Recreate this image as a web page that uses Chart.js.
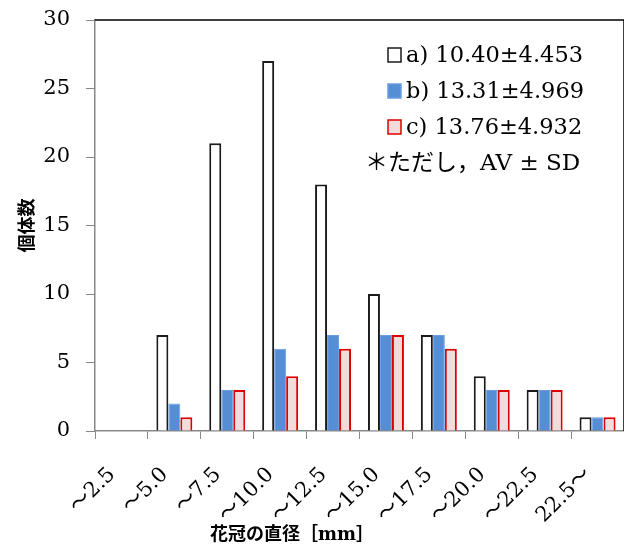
<!DOCTYPE html>
<html lang="ja">
<head>
<meta charset="UTF-8">
<title>花冠の直径</title>
<script src="https://cdn.jsdelivr.net/npm/chart.js"></script>
<style>
  html, body { margin: 0; padding: 0; background: #fff; }
  #wrap { width: 624px; height: 549px; }
</style>
</head>
<body>
<div id="wrap"><canvas id="chart" width="624" height="549"></canvas></div>
<script>
// data
const categories = ['～2.5', '～5.0', '～7.5', '～10.0', '～12.5', '～15.0', '～17.5', '～20.0', '～22.5', '22.5～'];
const seriesA = [0, 7, 21, 27, 18, 10, 7, 4, 3, 1];
const seriesB = [0, 2, 3, 6, 7, 7, 7, 3, 3, 1];
const seriesC = [0, 1, 3, 4, 6, 7, 6, 3, 3, 1];
const seriesLabels = ['a) 10.40±4.453', 'b) 13.31±4.969', 'c) 13.76±4.932'];
const noteText = '＊ただし，AV ± SD';
const yTicks = [0, 5, 10, 15, 20, 25, 30];

const serif = "'DejaVu Serif', 'Noto Sans CJK JP', serif";

// legend + frame drawn inside the plot
const insideLegend = {
    id: 'insideLegend',
    afterDraw(chart) {
        const ctx = chart.ctx;
        const a = chart.chartArea;
        ctx.save();
        // top + right frame
        ctx.strokeStyle = '#000';
        ctx.lineWidth = 1.5;
        ctx.beginPath();
        ctx.moveTo(a.left, a.top);
        ctx.lineTo(a.right, a.top);
        ctx.lineTo(a.right, a.bottom);
        ctx.stroke();

        ctx.font = '22.5px ' + serif;
        ctx.textBaseline = 'middle';
        ctx.textAlign = 'left';
        const rows = [55, 91, 127];
        chart.data.datasets.forEach((ds, i) => {
            const y = rows[i];
            ctx.fillStyle = ds.backgroundColor;
            ctx.fillRect(388, y - 7, 13, 14);
            ctx.lineWidth = 1.5;
            ctx.strokeStyle = ds.borderColor;
            ctx.strokeRect(388, y - 7, 13, 14);
            ctx.fillStyle = '#000';
            ctx.fillText(ds.label, 406, y + 1);
        });
        ctx.font = '23px ' + serif;
        ctx.fillText(noteText, 365, 164);
        ctx.restore();
    }
};

new Chart(document.getElementById('chart'), {
    type: 'bar',
    data: {
        labels: categories.map(c => c + '  '),
        datasets: [
            { label: seriesLabels[0], data: seriesA, backgroundColor: '#ffffff', borderColor: '#1a1a1a', borderWidth: 2 },
            { label: seriesLabels[1], data: seriesB, backgroundColor: '#558ed5', borderColor: '#6a9ddf', borderWidth: 1 },
            { label: seriesLabels[2], data: seriesC, backgroundColor: '#f2dcdb', borderColor: '#dd0000', borderWidth: 2 }
        ]
    },
    options: {
        responsive: false,
        animation: false,
        layout: { padding: { top: 20, right: 0, left: 0, bottom: 0 } },
        datasets: { bar: { categoryPercentage: 0.68, barPercentage: 1.0 } },
        plugins: {
            legend: { display: false },
            tooltip: { enabled: false }
        },
        scales: {
            x: {
                grid: { display: true, drawOnChartArea: false, drawTicks: true, tickLength: 8, color: '#888', offset: true },
                border: { color: '#888', width: 1.5 },
                ticks: { color: '#000', font: { family: serif, size: 21 }, maxRotation: 45, minRotation: 45, padding: 14, autoSkip: false },
                title: {
                    display: true,
                    text: '花冠の直径［mm］' + '　　　　　　　　',
                    color: '#000',
                    font: { family: serif, size: 18, weight: 'bold' },
                    padding: { top: 0, bottom: 3 }
                },
                afterFit(scale) { scale.height = 118; scale.paddingLeft = 0; scale.paddingRight = 0; }
            },
            y: {
                min: 0,
                max: 30,
                afterBuildTicks(scale) { scale.ticks = yTicks.map(v => ({ value: v })); },
                grid: { display: true, drawOnChartArea: false, drawTicks: true, tickLength: 9, color: '#888' },
                border: { color: '#888', width: 1.5 },
                ticks: { color: '#000', font: { family: serif, size: 21 }, padding: 16 },
                title: {
                    display: true,
                    text: '個体数',
                    color: '#000',
                    font: { family: serif, size: 18, weight: 'bold' },
                    padding: { top: 18, bottom: 0 }
                },
                afterFit(scale) { scale.width = 95; scale.paddingTop = 0; scale.paddingBottom = 0; }
            }
        }
    },
    plugins: [insideLegend]
});
</script>
</body>
</html>
